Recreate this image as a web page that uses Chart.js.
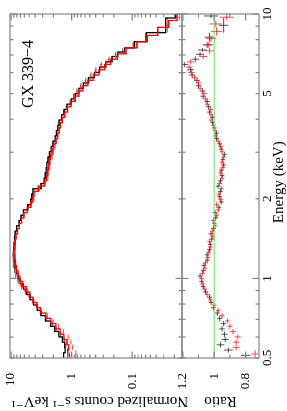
<!DOCTYPE html>
<html><head><meta charset="utf-8">
<script src="https://cdn.jsdelivr.net/npm/chart.js@4"></script>
<style>
html,body{margin:0;padding:0;background:#fff;overflow:hidden;}
#wrap{position:absolute;left:0;top:0;width:411px;height:287px;transform-origin:0 0;transform:translate(0px,411px) rotate(-90deg);}
canvas{display:block;}
</style></head><body>
<div id="wrap"><canvas id="c" width="411" height="287"></canvas></div>
<script>
const sourceName = 'GX 339−4';
const energyTitle = '\u00a0\u00a0Energy (keV)';
const countsTitle = 'Normalized counts s⁻¹ keV⁻¹\u00a0\u00a0';
const ratioTitle = 'Ratio';
const energyRange = [0.5, 10];
const countsRange = [0.015, 10.4];
const ratioRange = [0.715, 1.205];
const energyTicks = [0.5,0.6,0.7,0.8,0.9,1,2,3,4,5,6,7,8,9,10];
const energyLabels = [0.5,1,2,5,10];
const energyMajor = [1,10];
const countsTicks = [0.02,0.03,0.04,0.05,0.06,0.07,0.08,0.09,0.1,0.2,0.3,0.4,0.5,0.6,0.7,0.8,0.9,1,2,3,4,5,6,7,8,9,10];
const countsLabels = [0.1,1,10];
const ratioTicks = [0.8,0.9,1,1.1,1.2];
const ratioLabels = [0.8,1,1.2];
const labelPos = {energy: 5.93, counts: 4.29};

// energy bin edges (keV)
const edgesBlack = [0.500,0.524,0.548,0.574,0.601,0.630,0.659,0.690,0.723,0.757,
0.793,0.830,0.869,0.910,0.953,0.998,1.045,1.094,1.146,1.200,
1.256,1.315,1.377,1.442,1.510,1.581,1.656,1.734,1.816,1.901,
1.991,2.085,2.183,2.286,2.394,2.506,2.624,2.748,2.878,3.013,
3.155,3.304,3.460,3.623,3.794,3.973,4.160,4.356,4.561,4.776,
5.001,5.237,5.484,5.743,6.013,6.297,6.593,6.904,7.18,7.44,7.86,8.50,9.66,10.0];
const edgesRed = [0.500,0.536,0.561,0.587,0.615,0.644,0.675,0.706,0.740,0.775,
0.811,0.849,0.889,0.931,0.975,1.021,1.069,1.119,1.172,1.227,
1.285,1.346,1.409,1.476,1.545,1.618,1.694,1.774,1.858,1.945,
2.037,2.133,2.234,2.339,2.449,2.565,2.686,2.812,2.945,3.083,
3.229,3.381,3.540,3.707,3.882,4.065,4.256,4.457,4.667,4.887,
5.118,5.359,5.611,5.876,6.153,6.443,6.747,7.07,7.45,7.85,8.30,8.90,9.45,10.0];

// model (normalized counts s^-1 keV^-1) per bin
const modelBlack = [1.35,1.28,1.30,1.42,1.62,1.90,2.22,2.70,3.22,3.68,
4.25,4.82,5.50,6.27,7.05,7.65,8.15,8.60,8.80,8.90,
8.90,8.82,8.70,8.50,8.10,7.35,6.85,6.25,5.30,4.75,
4.55,4.35,3.20,2.85,2.72,2.63,2.56,2.45,2.32,2.18,
2.03,1.87,1.78,1.69,1.60,1.46,1.32,1.18,1.01,0.87,
0.76,0.64,0.525,0.42,0.345,0.272,0.215,0.172,0.133,0.092,
0.058,0.028,0.019];
const modelRed = [1.15,1.12,1.19,1.34,1.55,1.82,2.20,2.65,3.28,3.76,
4.30,4.90,5.59,6.46,7.13,7.66,8.12,8.44,8.58,8.63,
8.59,8.50,8.26,7.80,7.26,6.67,6.16,5.42,4.72,4.37,
4.18,3.55,2.81,2.59,2.49,2.42,2.33,2.22,2.09,1.96,
1.82,1.70,1.61,1.53,1.42,1.29,1.16,1.02,0.87,0.76,
0.65,0.54,0.44,0.355,0.285,0.226,0.175,0.126,0.083,0.056,
0.038,0.025,0.018];

// data / model ratio per bin and its error
const ratioBlack = [0.80,0.91,0.96,0.93,0.935,0.95,0.94,0.965,0.98,1.005,
1.02,1.03,1.055,1.07,1.08,1.09,1.07,1.065,1.045,1.045,
1.03,1.025,1.015,1.02,1.005,1.00,0.99,0.995,0.97,0.955,
0.965,0.96,0.975,0.96,0.95,0.955,0.94,0.945,0.935,0.955,
0.965,0.985,0.985,1.00,1.01,1.01,1.03,1.035,1.045,1.07,
1.075,1.10,1.11,1.14,1.15,1.19,1.12,1.09,1.075,1.045,
1.03,0.94,1.02];
const errBlack = [0.03,0.028,0.025,0.022,0.02,0.018,0.016,0.015,0.015,0.015,
0.015,0.015,0.015,0.015,0.015,0.015,0.015,0.015,0.015,0.015,
0.015,0.015,0.015,0.015,0.015,0.015,0.015,0.015,0.015,0.015,
0.015,0.015,0.015,0.015,0.015,0.015,0.015,0.015,0.015,0.015,
0.015,0.015,0.015,0.015,0.015,0.015,0.016,0.016,0.017,0.017,
0.018,0.018,0.019,0.02,0.021,0.022,0.024,0.026,0.028,0.028,
0.03,0.03,0.045];
const ratioRed = [0.74,0.86,0.86,0.85,0.88,0.90,0.915,0.95,0.975,1.00,
1.025,1.045,1.06,1.075,1.08,1.075,1.06,1.055,1.04,1.035,
1.025,1.03,1.01,1.01,0.995,1.005,0.985,0.975,0.985,0.96,
0.97,0.955,0.965,0.95,0.96,0.945,0.95,0.94,0.95,0.96,
0.975,0.99,0.995,1.005,1.02,1.02,1.025,1.045,1.055,1.065,
1.09,1.10,1.125,1.145,1.16,1.15,1.07,1.03,1.035,1.02,
0.985,0.99,0.92];
const errRed = [0.025,0.022,0.02,0.02,0.018,0.017,0.016,0.015,0.015,0.015,
0.015,0.015,0.015,0.015,0.015,0.015,0.015,0.015,0.015,0.015,
0.015,0.015,0.015,0.015,0.015,0.015,0.015,0.015,0.015,0.015,
0.015,0.015,0.015,0.015,0.015,0.015,0.015,0.015,0.015,0.015,
0.015,0.015,0.015,0.015,0.015,0.015,0.016,0.016,0.017,0.017,
0.018,0.019,0.02,0.021,0.022,0.024,0.026,0.028,0.03,0.032,
0.035,0.04,0.045];

function binPoints(edges, model, ratio, err, panel) {
  return model.map((m, i) => {
    const lo = edges[i], hi = edges[i + 1], x = Math.sqrt(lo * hi);
    return panel === 'counts'
      ? {x, y: m * ratio[i], lo, hi, err: m * err[i]}
      : {x, y: ratio[i], lo, hi, err: err[i]};
  });
}
function stepPoints(edges, model) {
  const d = model.map((m, i) => ({x: edges[i], y: m}));
  d.push({x: edges[edges.length - 1], y: model[model.length - 1]});
  return d;
}

const errorBars = {
  id: 'errorBars',
  afterDatasetDraw(chart, args) {
    const ds = chart.data.datasets[args.index];
    if (!ds.barColor) return;
    const ctx = chart.ctx, xs = chart.scales.x, ys = chart.scales[ds.yAxisID];
    ctx.save();
    ctx.beginPath();
    ctx.rect(xs.left, ys.top, xs.right - xs.left, ys.bottom - ys.top);
    ctx.clip();
    ctx.strokeStyle = ds.barColor;
    ctx.lineWidth = 1;
    ctx.beginPath();
    ds.data.forEach(p => {
      const x0 = xs.getPixelForValue(p.lo), x1 = xs.getPixelForValue(p.hi);
      const xc = xs.getPixelForValue(p.x), y = ys.getPixelForValue(p.y);
      const ya = ys.getPixelForValue(p.y - p.err), yb = ys.getPixelForValue(p.y + p.err);
      ctx.moveTo(x0, y); ctx.lineTo(x1, y);
      ctx.moveTo(xc, ya); ctx.lineTo(xc, yb);
    });
    ctx.stroke();
    ctx.restore();
  }
};

const frame = {
  id: 'frame',
  afterDatasetsDraw(chart) {
    const ctx = chart.ctx, xs = chart.scales.x;
    ctx.save();
    ctx.strokeStyle = '#858585';
    ctx.lineWidth = 1.2;
    [[chart.scales.y, countsTicks, countsLabels], [chart.scales.y2, ratioTicks, ratioLabels]].forEach(([ys, yt, ym]) => {
      ctx.strokeRect(xs.left, ys.top, xs.right - xs.left, ys.bottom - ys.top);
      ctx.beginPath();
      energyTicks.forEach(v => {
        const p = xs.getPixelForValue(v);
        const l = energyMajor.includes(v) ? 6.5 : 3.5;
        ctx.moveTo(p, ys.top); ctx.lineTo(p, ys.top + l);
        ctx.moveTo(p, ys.bottom); ctx.lineTo(p, ys.bottom - l);
      });
      yt.forEach(v => {
        const p = ys.getPixelForValue(v);
        const l = ym.includes(v) ? 6.5 : 3.5;
        ctx.moveTo(xs.left, p); ctx.lineTo(xs.left + l, p);
        ctx.moveTo(xs.right, p); ctx.lineTo(xs.right - l, p);
      });
      ctx.stroke();
    });
    ctx.fillStyle = '#000';
    ctx.font = '16px "Liberation Serif", "DejaVu Serif", serif';
    ctx.textAlign = 'center';
    ctx.textBaseline = 'alphabetic';
    ctx.fillText(sourceName, xs.getPixelForValue(labelPos.energy), chart.scales.y.getPixelForValue(labelPos.counts));
    ctx.restore();
  }
};

Chart.defaults.font.family = "'Liberation Serif', 'DejaVu Serif', serif";
Chart.defaults.color = '#000';

const datasets = [
  {label: 'unity', data: [{x: energyRange[0], y: 1}, {x: energyRange[1], y: 1}], yAxisID: 'y2',
   showLine: true, borderColor: '#66dd66', borderWidth: 1, pointRadius: 0},
  {label: 'model red', data: stepPoints(edgesRed, modelRed), yAxisID: 'y', showLine: true, stepped: true,
   borderColor: '#ff0000', borderWidth: 1.3, pointRadius: 0},
  {label: 'data red', data: binPoints(edgesRed, modelRed, ratioRed, errRed, 'counts'), yAxisID: 'y',
   showLine: false, pointRadius: 0, barColor: 'rgba(255,40,40,0.75)'},
  {label: 'ratio red', data: binPoints(edgesRed, modelRed, ratioRed, errRed, 'ratio'), yAxisID: 'y2',
   showLine: false, pointRadius: 0, barColor: 'rgba(255,30,30,0.8)'},
  {label: 'model black', data: stepPoints(edgesBlack, modelBlack), yAxisID: 'y', showLine: true, stepped: true,
   borderColor: '#000000', borderWidth: 1.3, pointRadius: 0},
  {label: 'data black', data: binPoints(edgesBlack, modelBlack, ratioBlack, errBlack, 'counts'), yAxisID: 'y',
   showLine: false, pointRadius: 0, barColor: 'rgba(40,40,40,0.7)'},
  {label: 'ratio black', data: binPoints(edgesBlack, modelBlack, ratioBlack, errBlack, 'ratio'), yAxisID: 'y2',
   showLine: false, pointRadius: 0, barColor: 'rgba(30,30,30,0.75)'}
];

new Chart(document.getElementById('c'), {
  type: 'scatter',
  data: {datasets},
  options: {
    responsive: false, animation: false, devicePixelRatio: 1,
    layout: {padding: {top: 10, right: 14, left: 0, bottom: 0}},
    plugins: {legend: {display: false}, tooltip: {enabled: false}},
    scales: {
      x: {
        type: 'logarithmic', min: energyRange[0], max: energyRange[1],
        afterBuildTicks: s => { s.ticks = energyTicks.map(v => ({value: v})); },
        afterFit: s => { s.height = 28; },
        grid: {display: false, drawTicks: true, tickLength: 1}, border: {display: false},
        ticks: {autoSkip: false, maxRotation: 0, minRotation: 0, padding: 0, color: '#000', font: {size: 13},
          callback: v => energyLabels.includes(v) ? String(v) : ''},
        title: {display: true, text: energyTitle, color: '#000', font: {size: 15, lineHeight: 1}, padding: {top: 0, bottom: 0}}
      },
      y2: {
        type: 'linear', position: 'left', stack: 'panels', stackWeight: 77,
        min: ratioRange[0], max: ratioRange[1],
        afterBuildTicks: s => { s.ticks = ratioTicks.map(v => ({value: v})); },
        afterFit: s => { s.width = 53; },
        grid: {display: false, drawTicks: true, tickLength: 15}, border: {display: false},
        ticks: {autoSkip: false, padding: 0, color: '#000', font: {size: 13},
          callback: v => ratioLabels.includes(v) ? String(v) : ''},
        title: {display: true, text: ratioTitle, color: '#000', font: {size: 15}, padding: {top: 1, bottom: 0}}
      },
      y: {
        type: 'logarithmic', position: 'left', stack: 'panels', stackWeight: 172,
        min: countsRange[0], max: countsRange[1],
        afterBuildTicks: s => { s.ticks = countsTicks.map(v => ({value: v})); },
        afterFit: s => { s.width = 53; },
        grid: {display: false, drawTicks: true, tickLength: 15}, border: {display: false},
        ticks: {autoSkip: false, padding: 0, color: '#000', font: {size: 13},
          callback: v => countsLabels.includes(v) ? String(v) : ''},
        title: {display: true, text: countsTitle, color: '#000', font: {size: 15}, padding: {top: 1, bottom: 0}}
      }
    }
  },
  plugins: [errorBars, frame]
});
</script>
</body></html>
